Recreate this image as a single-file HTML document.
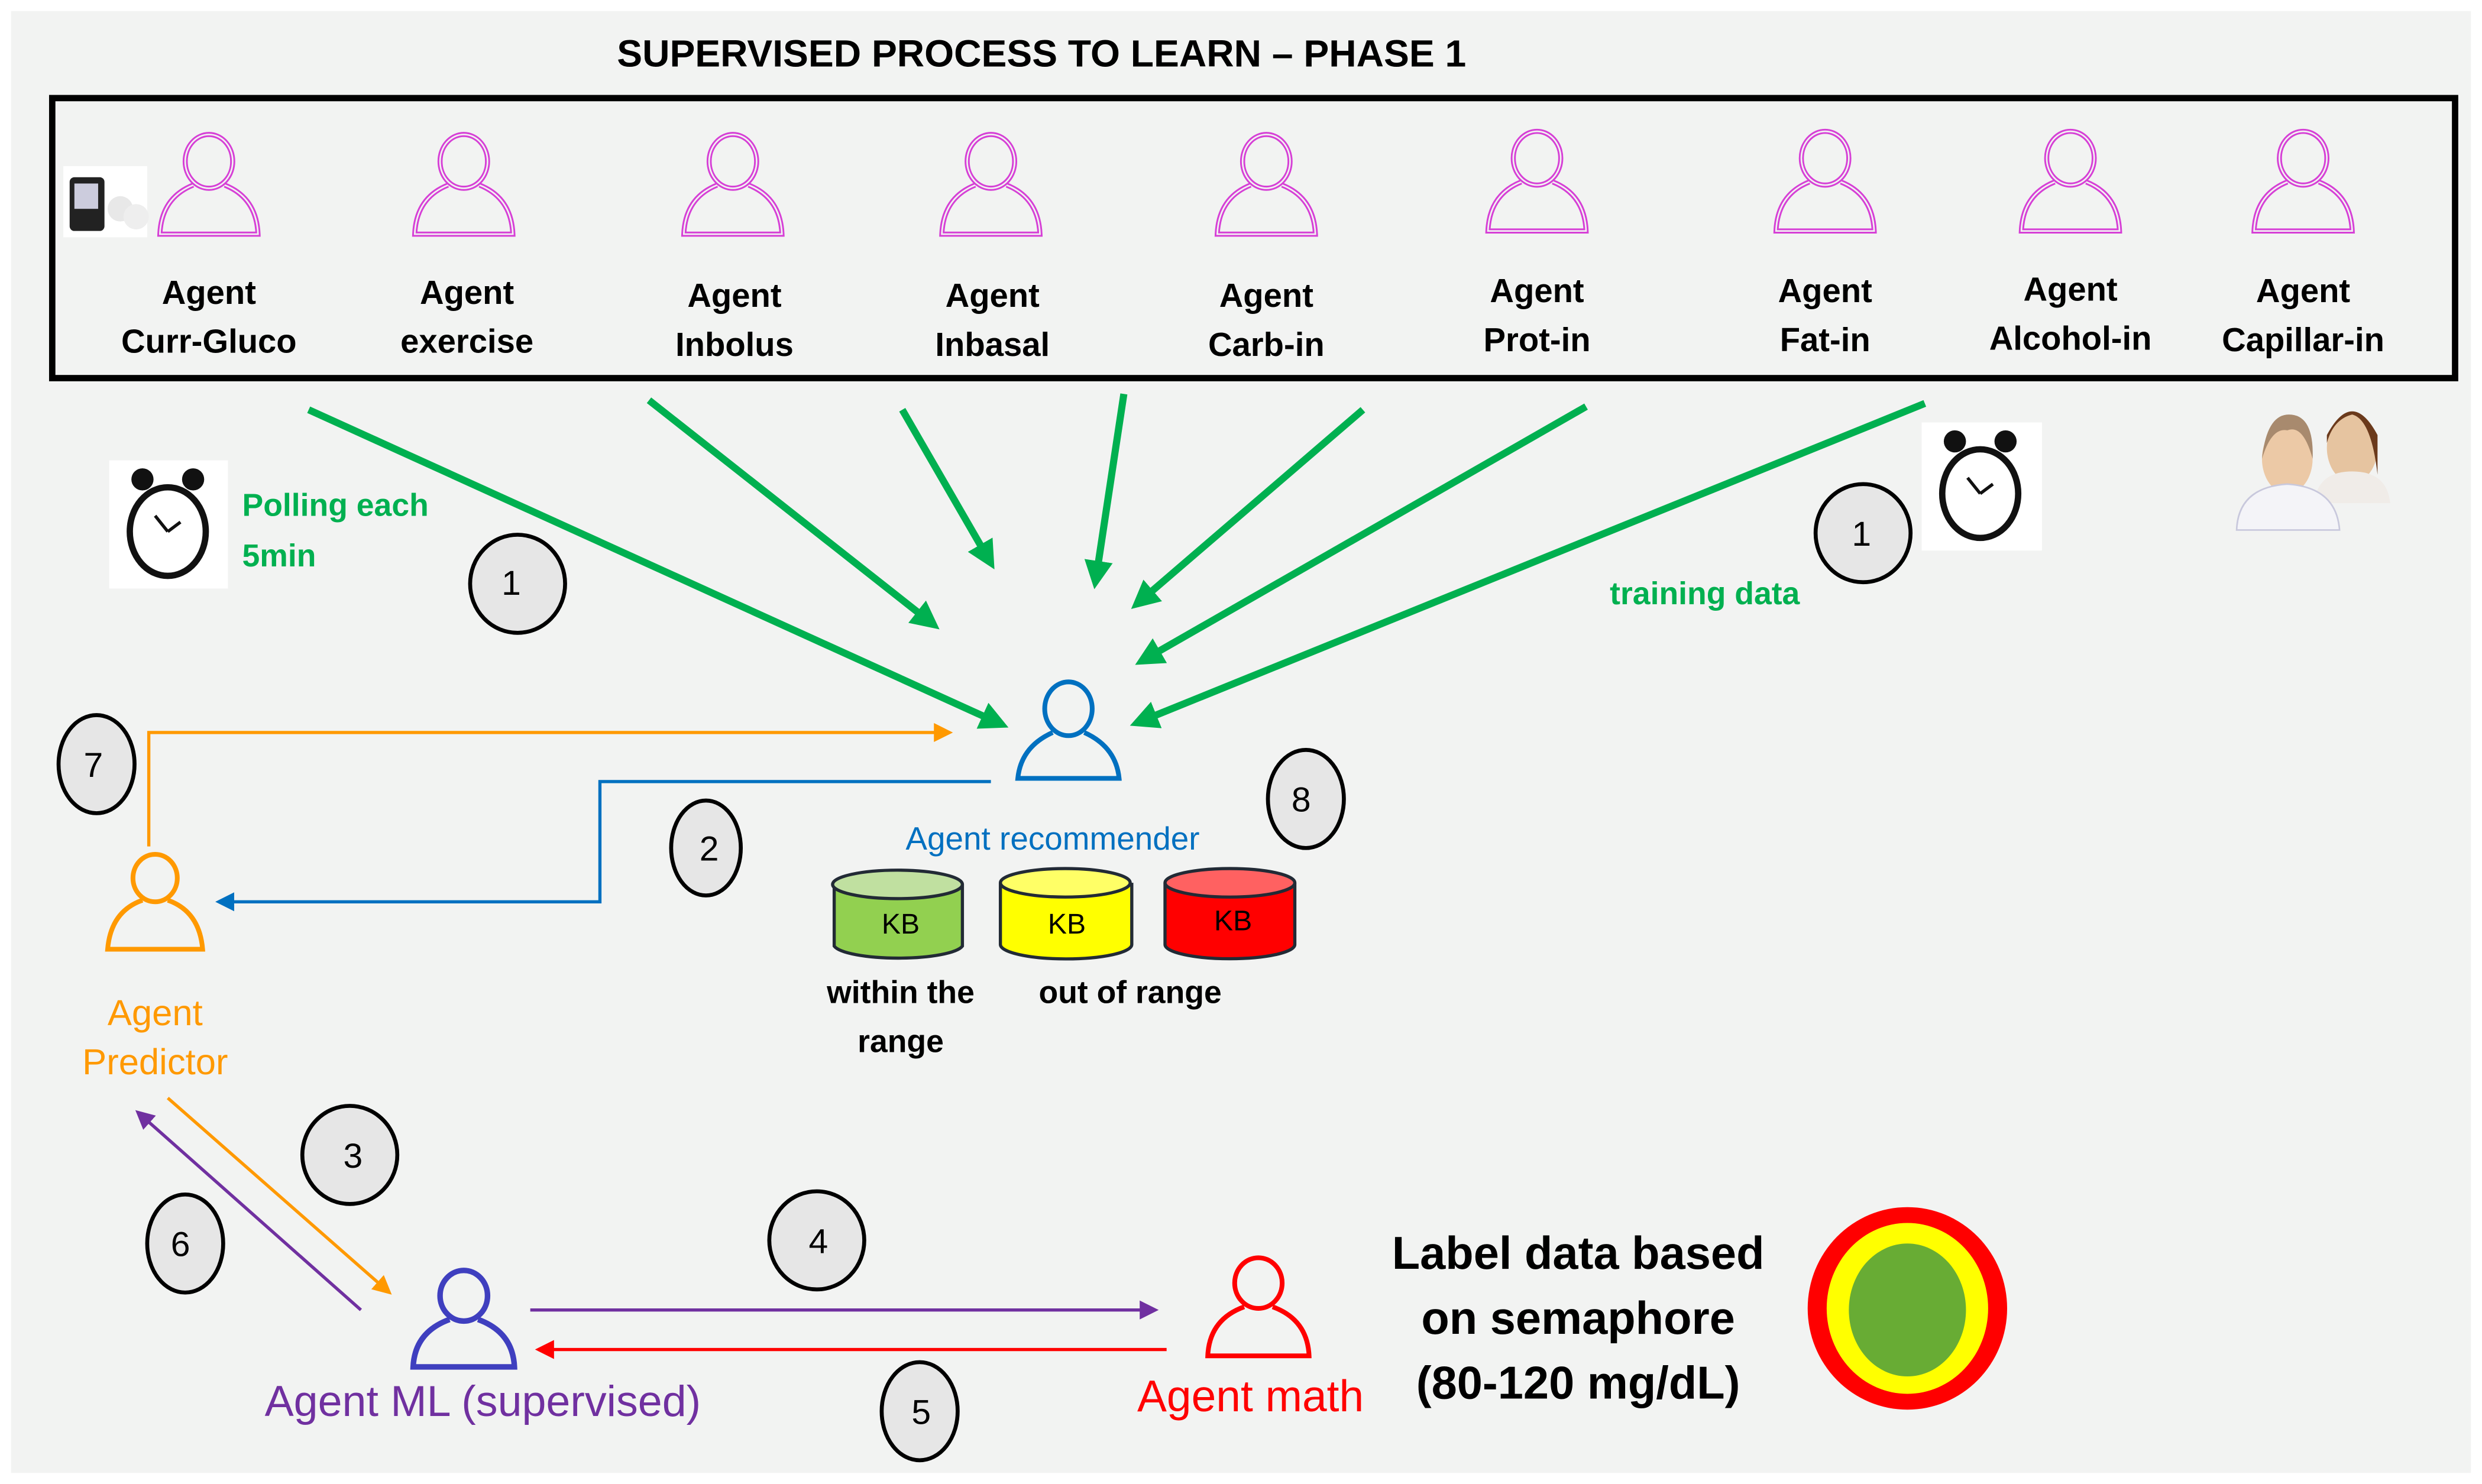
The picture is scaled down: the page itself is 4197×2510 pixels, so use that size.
<!DOCTYPE html>
<html><head><meta charset="utf-8"><style>
html,body{margin:0;padding:0;background:#fff;}
svg{display:block;}
text{font-family:"Liberation Sans",sans-serif;}
</style></head><body>
<svg width="4197" height="2510" viewBox="0 0 1568 938" preserveAspectRatio="none" xmlns="http://www.w3.org/2000/svg">
<defs>
<marker id="ag" markerWidth="4" markerHeight="4" refX="3" refY="2" orient="auto" markerUnits="strokeWidth"><path d="M0,0 L4,2 L0,4 z" fill="#00b050"/></marker>
<marker id="ao" markerWidth="6" markerHeight="6" refX="5" refY="3" orient="auto" markerUnits="strokeWidth"><path d="M0,0 L6,3 L0,6 z" fill="#ff9900"/></marker>
<marker id="ab" markerWidth="6" markerHeight="6" refX="5" refY="3" orient="auto" markerUnits="strokeWidth"><path d="M0,0 L6,3 L0,6 z" fill="#0070c0"/></marker>
<marker id="ap" markerWidth="6" markerHeight="6" refX="5" refY="3" orient="auto" markerUnits="strokeWidth"><path d="M0,0 L6,3 L0,6 z" fill="#7030a0"/></marker>
<marker id="ar" markerWidth="6" markerHeight="6" refX="5" refY="3" orient="auto" markerUnits="strokeWidth"><path d="M0,0 L6,3 L0,6 z" fill="#ff0000"/></marker>
<g id="pm">
<ellipse cx="0" cy="-18" rx="15" ry="17" fill="none" stroke="#d63fd6" stroke-width="3.2"/>
<path d="M-10,-3 Q-30,5 -31,28 L31,28 Q30,5 10,-3" fill="none" stroke="#d63fd6" stroke-width="3.2"/>
<ellipse cx="0" cy="-18" rx="15" ry="17" fill="none" stroke="#f2f3f2" stroke-width="1"/>
<path d="M-10,-3 Q-30,5 -31,28 L31,28 Q30,5 10,-3" fill="none" stroke="#f2f3f2" stroke-width="1"/>
</g>
</defs>
<rect x="7" y="7" width="1554" height="924" fill="#f2f3f2"/>
<text x="658" y="42" font-size="24" font-weight="bold" text-anchor="middle">SUPERVISED PROCESS TO LEARN – PHASE 1</text>
<rect x="33" y="62" width="1518" height="177" fill="none" stroke="#000" stroke-width="4"/>
<rect x="40" y="105" width="53" height="45" fill="#fff"/>
<rect x="44" y="112" width="22" height="34" rx="3" fill="#222"/>
<rect x="47" y="116" width="15" height="16" fill="#ccd"/>
<circle cx="76" cy="132" r="8" fill="#e8e8e8"/><circle cx="86" cy="137" r="8" fill="#eee"/>
<g font-size="21" font-weight="bold" text-anchor="middle">
<use href="#pm" x="132" y="120"/><text x="132" y="192">Agent</text><text x="132" y="223">Curr-Gluco</text>
<use href="#pm" x="293" y="120"/><text x="295" y="192">Agent</text><text x="295" y="223">exercise</text>
<use href="#pm" x="463" y="120"/><text x="464" y="194">Agent</text><text x="464" y="225">Inbolus</text>
<use href="#pm" x="626" y="120"/><text x="627" y="194">Agent</text><text x="627" y="225">Inbasal</text>
<use href="#pm" x="800" y="120"/><text x="800" y="194">Agent</text><text x="800" y="225">Carb-in</text>
<use href="#pm" x="971" y="118"/><text x="971" y="191">Agent</text><text x="971" y="222">Prot-in</text>
<use href="#pm" x="1153" y="118"/><text x="1153" y="191">Agent</text><text x="1153" y="222">Fat-in</text>
<use href="#pm" x="1308" y="118"/><text x="1308" y="190">Agent</text><text x="1308" y="221">Alcohol-in</text>
<use href="#pm" x="1455" y="118"/><text x="1455" y="191">Agent</text><text x="1455" y="222">Capillar-in</text>
</g>
<g stroke="#00b050" stroke-width="4.5" fill="none" marker-end="url(#ag)">
<line x1="195" y1="259" x2="633" y2="458"/>
<line x1="410" y1="253" x2="590" y2="395"/>
<line x1="570" y1="259" x2="626" y2="356"/>
<line x1="710" y1="249" x2="692" y2="368"/>
<line x1="861" y1="259" x2="718" y2="382"/>
<line x1="1002" y1="257" x2="721" y2="418"/>
<line x1="1216" y1="255" x2="718" y2="457"/>
</g>
<g>
<rect x="69" y="291" width="75" height="81" fill="#fff"/>
<ellipse cx="106" cy="336" rx="24" ry="28" fill="#fff" stroke="#111" stroke-width="4"/>
<circle cx="90" cy="303" r="7" fill="#111"/><circle cx="122" cy="303" r="7" fill="#111"/>
<path d="M106,336 L98,326 M106,336 L114,330" stroke="#111" stroke-width="2"/>
<rect x="1214" y="267" width="76" height="81" fill="#fff"/>
<ellipse cx="1251" cy="312" rx="24" ry="28" fill="#fff" stroke="#111" stroke-width="4"/>
<circle cx="1235" cy="279" r="7" fill="#111"/><circle cx="1267" cy="279" r="7" fill="#111"/>
<path d="M1251,312 L1243,302 M1251,312 L1259,306" stroke="#111" stroke-width="2"/>
</g>
<ellipse cx="1486" cy="283" rx="16" ry="22" fill="#e6c4a0"/>
<path d="M1470,275 Q1486,245 1502,275 L1502,300 Q1498,265 1486,262 Q1474,265 1470,280z" fill="#6b3a1c"/>
<path d="M1462,318 Q1464,298 1486,298 Q1508,298 1510,318z" fill="#f0ece8"/>
<ellipse cx="1445" cy="290" rx="16" ry="22" fill="#ecc9a6"/>
<path d="M1429,290 Q1432,262 1446,262 Q1462,262 1461,290 Q1455,268 1445,272 Q1435,270 1429,290z" fill="#a88a6e"/>
<path d="M1413,335 Q1414,308 1445,306 Q1476,308 1478,335z" fill="#f4f4f8" stroke="#c8c8dc" stroke-width="1"/>
<g font-size="20" font-weight="bold" fill="#00b050">
<text x="153" y="326">Polling each</text><text x="153" y="358">5min</text>
<text x="1017" y="382">training data</text>
</g>
<g fill="#e6e6e6" stroke="#000" stroke-width="2.5">
<ellipse cx="327" cy="369" rx="30" ry="31"/>
<ellipse cx="1177" cy="337" rx="30" ry="31"/>
<ellipse cx="61" cy="483" rx="24" ry="31"/>
<ellipse cx="446" cy="536" rx="22" ry="30"/>
<ellipse cx="825" cy="505" rx="24" ry="31"/>
<ellipse cx="221" cy="730" rx="30" ry="31"/>
<ellipse cx="117" cy="786" rx="24" ry="31"/>
<ellipse cx="516" cy="784" rx="30" ry="31"/>
<ellipse cx="581" cy="892" rx="24" ry="31"/>
</g>
<g font-size="22" text-anchor="middle">
<text x="323" y="376">1</text><text x="1176" y="345">1</text><text x="59" y="491">7</text>
<text x="448" y="544">2</text><text x="822" y="513">8</text><text x="223" y="738">3</text>
<text x="114" y="794">6</text><text x="517" y="792">4</text><text x="582" y="900">5</text>
</g>
<ellipse cx="675" cy="448" rx="15" ry="17" fill="none" stroke="#0070c0" stroke-width="3"/>
<path d="M665,463 Q645,472 643,492 L707,492 Q705,472 685,463" fill="none" stroke="#0070c0" stroke-width="3"/>
<text x="665" y="537" font-size="20.5" fill="#0070c0" text-anchor="middle">Agent recommender</text>
<polyline points="94,535 94,463 600,463" fill="none" stroke="#ff9900" stroke-width="2" marker-end="url(#ao)"/>
<polyline points="626,494 379,494 379,570 138,570" fill="none" stroke="#0070c0" stroke-width="2" marker-end="url(#ab)"/>
<ellipse cx="98" cy="555" rx="14" ry="15" fill="none" stroke="#ff9900" stroke-width="3"/>
<path d="M90,569 Q70,576 68,600 L128,600 Q126,576 106,569" fill="none" stroke="#ff9900" stroke-width="3"/>
<g font-size="23" fill="#ff9900" text-anchor="middle"><text x="98" y="648">Agent</text><text x="98" y="679">Predictor</text></g>
<g stroke="#222a35" stroke-width="2">
<path d="M527,559 L527,598 A41,9 0 0 0 608,598 L608,559" fill="#92d050"/>
<ellipse cx="567" cy="559" rx="41" ry="9" fill="#c0e0a0"/>
<path d="M632,558 L632,597 A41,9 0 0 0 715,597 L715,558" fill="#ffff00"/>
<ellipse cx="673" cy="558" rx="41" ry="9" fill="#ffff66"/>
<path d="M736,558 L736,597 A41,9 0 0 0 818,597 L818,558" fill="#ff0000"/>
<ellipse cx="777" cy="558" rx="41" ry="9" fill="#ff6161"/>
</g>
<g font-size="18" text-anchor="middle"><text x="569" y="590">KB</text><text x="674" y="590">KB</text><text x="779" y="588">KB</text></g>
<g font-size="20" font-weight="bold" text-anchor="middle">
<text x="569" y="634">within the</text><text x="569" y="665">range</text>
<text x="714" y="634">out of range</text>
</g>
<line x1="106" y1="694" x2="246" y2="817" stroke="#ff9900" stroke-width="2" marker-end="url(#ao)"/>
<line x1="228" y1="828" x2="87" y2="703" stroke="#7030a0" stroke-width="2" marker-end="url(#ap)"/>
<ellipse cx="293" cy="819" rx="15" ry="16" fill="none" stroke="#3f3fbf" stroke-width="3.5"/>
<path d="M284,834 Q262,842 261,864 L325,864 Q324,842 302,834" fill="none" stroke="#3f3fbf" stroke-width="3.5"/>
<text x="305" y="895" font-size="27.5" fill="#7030a0" text-anchor="middle">Agent ML (supervised)</text>
<line x1="335" y1="828" x2="730" y2="828" stroke="#7030a0" stroke-width="2" marker-end="url(#ap)"/>
<line x1="737" y1="853" x2="340" y2="853" stroke="#ff0000" stroke-width="2" marker-end="url(#ar)"/>
<ellipse cx="795" cy="811" rx="15" ry="16" fill="none" stroke="#ff0000" stroke-width="3"/>
<path d="M786,826 Q764,834 763,857 L827,857 Q826,834 804,826" fill="none" stroke="#ff0000" stroke-width="3"/>
<text x="790" y="892" font-size="28" fill="#ff0000" text-anchor="middle">Agent math</text>
<g font-size="29" font-weight="bold" text-anchor="middle">
<text x="997" y="802">Label data based</text><text x="997" y="843">on semaphore</text><text x="997" y="884">(80-120 mg/dL)</text>
</g>
<ellipse cx="1205" cy="827" rx="63" ry="64" fill="#ff0000"/>
<ellipse cx="1205" cy="827" rx="51" ry="54" fill="#ffff00"/>
<ellipse cx="1205" cy="828" rx="37" ry="42" fill="#68ac34"/>
</svg>
</body></html>
